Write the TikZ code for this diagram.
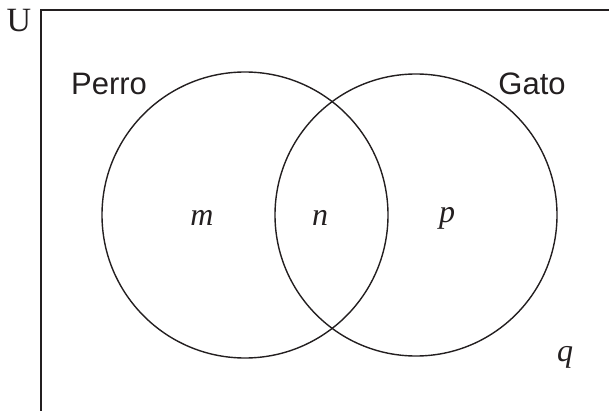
\documentclass[tikz,border=0pt]{standalone}
\usepackage{fontspec}
\setmainfont{Liberation Serif}
\setsansfont{Liberation Sans}
\definecolor{ink}{HTML}{231F20}
\begin{document}
\begin{tikzpicture}[x=1pt,y=-1pt, every node/.style={text=ink},
  circ/.style={draw=ink, line width=1.4pt},
  setlbl/.style={font=\sffamily\fontsize{31}{31}\selectfont, inner sep=0pt},
  elem/.style={font=\itshape\fontsize{32}{32}\selectfont, inner sep=0pt}]
\useasboundingbox (0,0) rectangle (609,411);
\clip (0,0) rectangle (609,411);
\draw[ink, line width=1.7pt] (41,420) -- (41,10) -- (620,10) -- (620,420);
\node[font=\fontsize{34}{34}\selectfont, inner sep=0pt] (U) at (19,21) {U};
\draw[circ] (245,215) circle (143);
\draw[circ] (416,215) circle (141);
\node[setlbl] (perro) at (109,84) {Perro};
\node[setlbl] (gato) at (532,84) {Gato};
\node[elem] (m) at (202,218) {m};
\node[elem] (n) at (320,218) {n};
\node[elem] (p) at (447,218) {p};
\node[elem] (q) at (565,357) {q};
\end{tikzpicture}
\end{document}
